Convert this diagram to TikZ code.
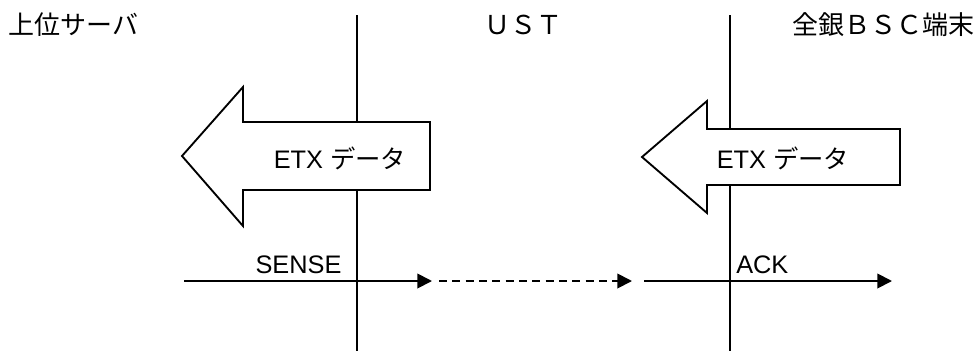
\documentclass[tikz,border=0pt]{standalone}
\usepackage{fontspec}
\setmainfont{Liberation Sans}
\newfontfamily\jp{Noto Sans CJK JP}
\usetikzlibrary{positioning,arrows.meta}

\begin{document}
\begin{tikzpicture}[x=0.75pt, y=-0.75pt, line width=1.4pt,
	title/.style = {font=\jp\fontsize{19.5}{23}\selectfont, inner sep=0pt},
	lbl/.style = {font=\fontsize{19}{22}\selectfont, inner sep=0pt},
	blockarrow/.style = {draw, fill=white, line join=miter},
	msg/.style = {-{Triangle[length=11pt,width=11pt]}}]
	\useasboundingbox (0,0) rectangle (979,351);
	% titles
	\node[title, anchor=west] (srv) at (8,25) {上位サーバ};
	\node[title] (ust) at (523,25) {ＵＳＴ};
	\node[title, anchor=east] (bsc) at (975,25) {全銀ＢＳＣ端末};
	% lifelines
	\coordinate (L1) at (357,15);
	\coordinate (L2) at (357,351);
	\coordinate (R1) at (730,15);
	\coordinate (R2) at (730,351);
	\draw (L1) -- (L2);
	\draw (R1) -- (R2);
	% ETX arrows
	\draw[blockarrow] (182,156) -- (243,87) -- (243,122) -- (430,122) -- (430,190) -- (243,190) -- (243,226) -- cycle;
	\draw[blockarrow] (642,157) -- (707,101) -- (707,129) -- (900,129) -- (900,185) -- (707,185) -- (707,213) -- cycle;
	\node[lbl] (etx1) at (340,158) {ETX {\jp データ}};
	\node[lbl] (etx2) at (783,158) {ETX {\jp データ}};
	% SENSE / ACK
	\coordinate (X1) at (357,281);
	\coordinate (X2) at (730,281);
	\coordinate (S1) at (184,281);
	\coordinate (S2) at (432,281);
	\coordinate (D1) at (439,281);
	\coordinate (D2) at (632,281);
	\coordinate (A1) at (644,281);
	\coordinate (A2) at (892,281);
	\draw[msg] (S1) -- (S2);
	\draw[msg, dash pattern=on 6pt off 4pt] (D1) -- (D2);
	\draw[msg] (A1) -- (A2);
	\node[lbl, above left = 4.5pt and 11pt of X1] (sense) {SENSE};
	\node[lbl, above right = 4.5pt and 4pt of X2] (ack) {ACK};
\end{tikzpicture}
\end{document}
